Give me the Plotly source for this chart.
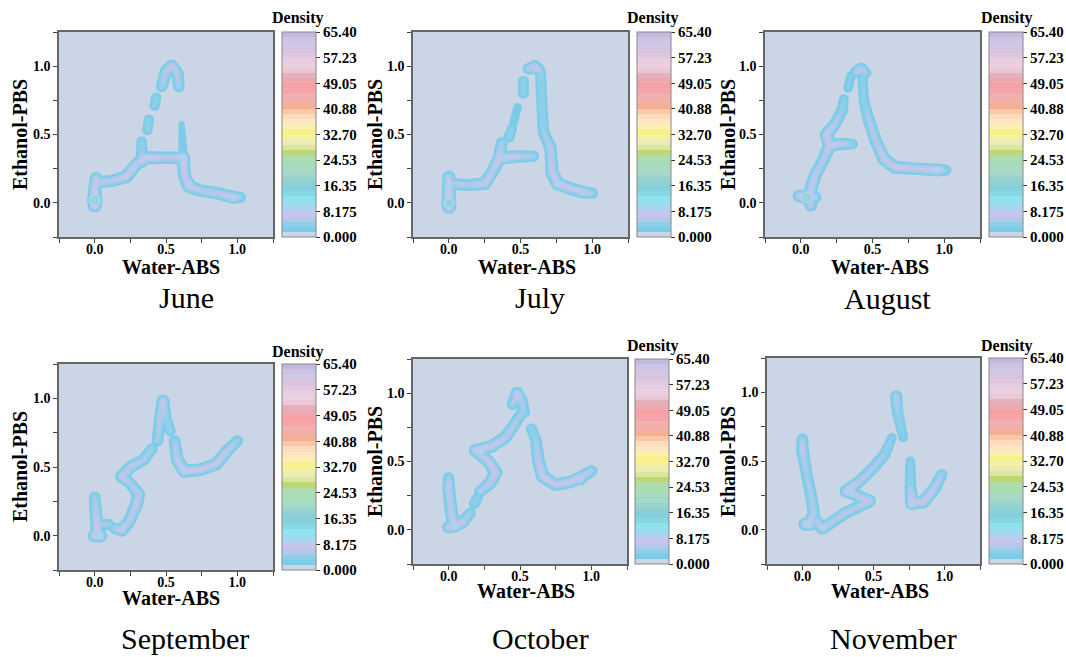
import numpy as np
import plotly.graph_objects as go

# ---------------- data ----------------
MONTHS = ["June", "July", "August", "September", "October", "November"]

# each path: list of (Water-ABS, Ethanol-PBS, ridge density)
JUNE_PATHS = [
    [(0.0, -0.02, 9), (0.0, 0.08, 8), (0.01, 0.18, 6.5)],
    [(0.02, 0.15, 6.5), (0.12, 0.16, 6), (0.22, 0.19, 7.5), (0.30, 0.29, 6.5), (0.36, 0.33, 8)],
    [(0.33, 0.30, 6), (0.33, 0.45, 4)],
    [(0.36, 0.33, 8), (0.50, 0.33, 6.5), (0.62, 0.33, 7)],
    [(0.62, 0.33, 3.5), (0.61, 0.58, 2.2)],
    [(0.62, 0.33, 8), (0.63, 0.20, 7), (0.66, 0.12, 7.5), (0.74, 0.09, 6.5), (0.86, 0.07, 6.5), (0.97, 0.04, 8), (1.02, 0.04, 5)],
    [(0.37, 0.53, 4), (0.38, 0.61, 4)],
    [(0.42, 0.71, 4), (0.43, 0.77, 4)],
    [(0.47, 0.85, 5), (0.50, 0.96, 6.5), (0.54, 1.0, 7.5), (0.58, 0.95, 6), (0.59, 0.85, 5)],
]
JUNE_SPOTS = [(0.0, 0.02, 23), (0.36, 0.33, 9), (0.62, 0.33, 12), (0.97, 0.04, 11), (0.66, 0.14, 10)]

JULY_PATHS = [
    [(0.0, -0.03, 9), (0.0, 0.08, 8), (0.0, 0.19, 6.5)],
    [(0.02, 0.14, 6), (0.12, 0.13, 6), (0.25, 0.14, 7), (0.30, 0.22, 6.5), (0.35, 0.32, 7.5), (0.37, 0.44, 5)],
    [(0.38, 0.33, 8), (0.50, 0.34, 6.5), (0.59, 0.34, 5)],
    [(0.42, 0.48, 4.5), (0.44, 0.54, 4)],
    [(0.45, 0.58, 3), (0.48, 0.70, 3)],
    [(0.52, 0.80, 4.5), (0.52, 0.89, 4.5)],
    [(0.56, 0.98, 6), (0.60, 1.0, 6.5), (0.63, 0.97, 6)],
    [(0.64, 0.95, 4.5), (0.65, 0.70, 4.5), (0.66, 0.52, 5), (0.71, 0.40, 6), (0.72, 0.22, 7), (0.76, 0.14, 8), (0.86, 0.10, 7), (0.93, 0.08, 7.5), (1.0, 0.07, 5)],
]
JULY_SPOTS = [(0.0, 0.0, 21), (0.0, 0.13, 11), (0.39, 0.33, 12), (0.76, 0.14, 11), (0.92, 0.08, 9), (0.61, 0.98, 8)]

AUGUST_PATHS = [
    [(-0.01, 0.05, 7), (0.04, 0.04, 9), (0.10, 0.04, 6)],
    [(0.07, -0.02, 6), (0.07, 0.10, 7), (0.10, 0.20, 6.5), (0.16, 0.32, 6), (0.20, 0.42, 7.5), (0.18, 0.50, 7.5), (0.24, 0.58, 5.5), (0.29, 0.68, 5), (0.30, 0.76, 3.5)],
    [(0.20, 0.42, 7.5), (0.28, 0.43, 6.5), (0.36, 0.43, 4.5)],
    [(0.33, 0.84, 3.5), (0.35, 0.93, 3.5)],
    [(0.39, 0.96, 6), (0.42, 0.98, 6.5), (0.45, 0.95, 5.5)],
    [(0.43, 0.92, 4), (0.44, 0.75, 4), (0.47, 0.62, 5.5), (0.52, 0.46, 6), (0.58, 0.32, 7), (0.66, 0.26, 7.5), (0.80, 0.25, 6.5), (0.95, 0.24, 7.5), (1.01, 0.24, 5)],
]
AUGUST_SPOTS = [(0.04, 0.04, 23), (0.18, 0.48, 8), (0.95, 0.24, 12), (0.62, 0.28, 8)]

SEPTEMBER_PATHS = [
    [(0.0, 0.28, 5), (0.01, 0.15, 6.5), (0.02, 0.02, 8)],
    [(0.0, 0.0, 8), (0.04, 0.0, 8)],
    [(0.04, 0.08, 5.5), (0.10, 0.08, 5)],
    [(0.15, 0.05, 6), (0.19, 0.04, 7.5), (0.24, 0.10, 6), (0.29, 0.22, 7), (0.31, 0.30, 6.5), (0.25, 0.38, 5.5), (0.19, 0.43, 7), (0.25, 0.50, 6.5), (0.34, 0.55, 5.5), (0.40, 0.63, 5)],
    [(0.44, 0.69, 5), (0.46, 0.85, 6), (0.48, 0.98, 7)],
    [(0.48, 0.98, 6), (0.50, 0.85, 5), (0.53, 0.76, 4.5)],
    [(0.56, 0.69, 5), (0.58, 0.55, 6.5), (0.63, 0.47, 8), (0.74, 0.48, 7), (0.85, 0.52, 7), (0.93, 0.62, 6.5), (1.0, 0.69, 5)],
]
SEPTEMBER_SPOTS = [(0.03, 0.0, 13), (0.19, 0.04, 9), (0.63, 0.47, 11), (0.48, 0.96, 8)]

OCTOBER_PATHS = [
    [(0.0, 0.38, 5), (0.0, 0.30, 6.5), (0.02, 0.12, 6.5), (0.04, 0.03, 8)],
    [(0.0, 0.02, 7), (0.04, 0.03, 9), (0.10, 0.06, 7)],
    [(0.10, 0.06, 6), (0.15, 0.12, 5)],
    [(0.18, 0.19, 4.5), (0.20, 0.23, 4.5)],
    [(0.22, 0.28, 5.5), (0.29, 0.34, 6.5), (0.33, 0.42, 7.5), (0.28, 0.50, 7), (0.22, 0.55, 6.5), (0.19, 0.58, 8), (0.30, 0.61, 7), (0.40, 0.68, 6.5), (0.46, 0.77, 5.5), (0.52, 0.87, 5)],
    [(0.45, 0.92, 5.5), (0.48, 1.0, 7), (0.51, 0.95, 5.5), (0.53, 0.86, 5)],
    [(0.58, 0.74, 4.5), (0.61, 0.66, 5), (0.63, 0.50, 6.5), (0.66, 0.39, 7.5), (0.75, 0.33, 7), (0.85, 0.35, 7), (0.92, 0.38, 7.5), (1.0, 0.43, 5.5)],
]
OCTOBER_SPOTS = [(0.04, 0.03, 12), (0.22, 0.57, 11), (0.92, 0.37, 10), (0.0, 0.32, 8), (0.48, 0.97, 8)]

NOVEMBER_PATHS = [
    [(0.0, 0.66, 5), (0.0, 0.58, 6.5), (0.03, 0.40, 5), (0.06, 0.25, 5.5), (0.08, 0.12, 6), (0.05, 0.05, 7)],
    [(0.02, 0.04, 8), (0.06, 0.04, 7)],
    [(0.10, 0.06, 6), (0.14, 0.01, 7), (0.20, 0.05, 6), (0.30, 0.12, 6), (0.40, 0.17, 6), (0.47, 0.21, 7.5)],
    [(0.31, 0.28, 8), (0.40, 0.35, 6), (0.50, 0.45, 5.5), (0.58, 0.55, 5), (0.63, 0.67, 3.5)],
    [(0.31, 0.28, 7), (0.40, 0.24, 6.5), (0.47, 0.21, 7.5)],
    [(0.66, 0.97, 6), (0.67, 0.85, 5), (0.71, 0.67, 3.5)],
    [(0.76, 0.50, 3.5), (0.76, 0.32, 5), (0.77, 0.20, 8), (0.85, 0.20, 7.5), (0.93, 0.30, 6.5), (0.98, 0.40, 5)],
]
NOVEMBER_SPOTS = [(0.04, 0.04, 12), (0.33, 0.28, 11), (0.77, 0.19, 11), (0.0, 0.60, 8)]

ALL_PATHS = [JUNE_PATHS, JULY_PATHS, AUGUST_PATHS, SEPTEMBER_PATHS, OCTOBER_PATHS, NOVEMBER_PATHS]
ALL_SPOTS = [JUNE_SPOTS, JULY_SPOTS, AUGUST_SPOTS, SEPTEMBER_SPOTS, OCTOBER_SPOTS, NOVEMBER_SPOTS]

CB_TICKVALS = [0, 8.175, 16.35, 24.525, 32.7, 40.875, 49.05, 57.225, 65.4]
CB_TICKTEXT = ["0.000", "8.175", "16.35", "24.53", "32.70", "40.88", "49.05", "57.23", "65.40"]
AXIS_TICKVALS = [0.0, 0.5, 1.0]
AXIS_TICKTEXT = ["0.0", "0.5", "1.0"]

BAND_COLORS = [
    "#cad5e5", "#7ecbe9", "#8ccfea", "#b4c8ea", "#c4c6ec", "#b0d2f0", "#98dcf0", "#8ee4ee",
    "#88d8e4", "#84d0dc", "#8ccfd4", "#98d4cc", "#a4d8c8", "#acdcc0", "#a8dcb4", "#b0dcb0",
    "#bcd870", "#dce6a0", "#eaecb4", "#f4f0a4", "#f8f088", "#fcf0b0", "#fde6c4", "#fcdcbc",
    "#f8c8a8", "#f4b090", "#f0b0a8", "#f2b0b0", "#f5a4a8", "#f6a0a4", "#eea8b0", "#e4b0bc",
    "#eac8d8", "#ecd0e0", "#e8cce0", "#e0c8e0", "#d8c4e0", "#d0c8e4", "#ccc4e4", "#c4b8e0",
]

# ---------------- density field ----------------
ZMAX = 65.4
NB = len(BAND_COLORS)
STEP = ZMAX / NB
SIG = 0.027
SIG_SPOT = 0.024
gx = np.linspace(-0.25, 1.25, 301)
gy = np.linspace(-0.25, 1.25, 301)
X, Y = np.meshgrid(gx, gy)


def density(paths, spots):
    Z = np.full(X.shape, 1e-6)
    for path in paths:
        for (x0, y0, p0), (x1, y1, p1) in zip(path[:-1], path[1:]):
            dx, dy = x1 - x0, y1 - y0
            L2 = dx * dx + dy * dy
            t = np.clip(((X - x0) * dx + (Y - y0) * dy) / L2, 0, 1)
            d2 = (X - x0 - t * dx) ** 2 + (Y - y0 - t * dy) ** 2
            p = p0 + (p1 - p0) * t
            Z = np.maximum(Z, p * np.exp(-d2 / (2 * SIG ** 2)))
    for (x, y, p) in spots:
        Z = np.maximum(Z, p * np.exp(-((X - x) ** 2 + (Y - y) ** 2) / (2 * SIG_SPOT ** 2)))
    return Z


colorscale = []
for i, c in enumerate(BAND_COLORS):
    lo = max(0.0, (i - 0.25) / NB)
    hi = 1.0 if i == NB - 1 else (i + 0.75) / NB
    colorscale.append([lo, c])
    colorscale.append([hi, c])

# ---------------- layout geometry (pixels) ----------------
W, H = 1066, 657
PANELS = [  # plot-area left, right, top, bottom ; colorbar left
    (59, 273, 32, 237, 282),
    (413, 628, 32, 237, 637),
    (765, 980, 32, 237, 989),
    (59, 273, 364, 570, 282),
    (413, 627, 359, 564, 635),
    (767, 980, 358, 564, 989),
]
DENS_POS = [(298, 18), (653, 18), (1007, 18), (298, 352), (653, 346), (1007, 346)]
XT_POS = [(171, 267), (527, 267), (880, 267), (171, 598), (526, 591), (880, 591)]
YT_POS = [(20, 135), (375, 135), (728, 135), (20, 467), (375, 462), (728, 462)]
MONTH_POS = [(186, 297), (540, 297), (887, 298), (185, 638), (540, 638), (893, 638)]

SERIF = "Liberation Serif"
fig = go.Figure()
layout = dict(width=W, height=H, margin=dict(l=0, r=0, t=0, b=0),
              paper_bgcolor="white", plot_bgcolor="#cad5e5", showlegend=False)
annotations = []

for k in range(6):
    L, R, T, B, CBL = PANELS[k]
    Z = density(ALL_PATHS[k], ALL_SPOTS[k])
    sfx = "" if k == 0 else str(k + 1)
    fig.add_trace(go.Contour(
        x=gx, y=gy, z=Z, xaxis="x" + sfx, yaxis="y" + sfx,
        colorscale=colorscale, zmin=0, zmax=ZMAX,
        contours=dict(start=0, end=ZMAX, size=STEP, coloring="fill", showlines=False),
        line=dict(width=0), hoverinfo="skip",
        colorbar=dict(
            x=CBL / W, xanchor="left", y=1 - T / H, yanchor="top",
            len=(B - T) / H, lenmode="fraction", thickness=34, thicknessmode="pixels",
            xpad=0, ypad=0, outlinecolor="#888", outlinewidth=1,
            tickmode="array", tickvals=CB_TICKVALS, ticktext=CB_TICKTEXT,
            ticks="outside", ticklen=4, tickcolor="#333",
            tickfont=dict(family=SERIF, size=15, color="black", weight="bold"),
        ),
    ))
    ax = dict(range=[-0.25, 1.25], showline=True, mirror=True, linecolor="#666", linewidth=1.5,
              showgrid=False, zeroline=False, ticks="outside", ticklen=4, tickcolor="#444",
              tickmode="array", tickvals=AXIS_TICKVALS, ticktext=AXIS_TICKTEXT,
              minor=dict(ticks="outside", ticklen=4, tickcolor="#444", tickmode="array",
                         tickvals=[-0.25, 0.25, 0.75, 1.25]),
              tickfont=dict(family=SERIF, size=14, color="black", weight="bold"))
    layout["xaxis" + sfx] = dict(ax, domain=[L / W, R / W], anchor="y" + sfx, ticklabelstandoff=-6)
    layout["yaxis" + sfx] = dict(ax, domain=[1 - B / H, 1 - T / H], anchor="x" + sfx)

    for (txt, pos, size, weight, ang) in [
        ("Density", DENS_POS[k], 16, "bold", 0),
        ("Water-ABS", XT_POS[k], 20, "bold", 0),
        ("Ethanol-PBS", YT_POS[k], 20, "bold", -90),
        (MONTHS[k], MONTH_POS[k], 30, "normal", 0),
    ]:
        annotations.append(dict(
            text=txt, x=pos[0] / W, y=1 - pos[1] / H, xref="paper", yref="paper",
            xanchor="center", yanchor="middle", showarrow=False, textangle=ang,
            font=dict(family=SERIF, size=size, color="black", weight=weight)))

layout["annotations"] = annotations
fig.update_layout(**layout)
fig.write_html("out.html")
